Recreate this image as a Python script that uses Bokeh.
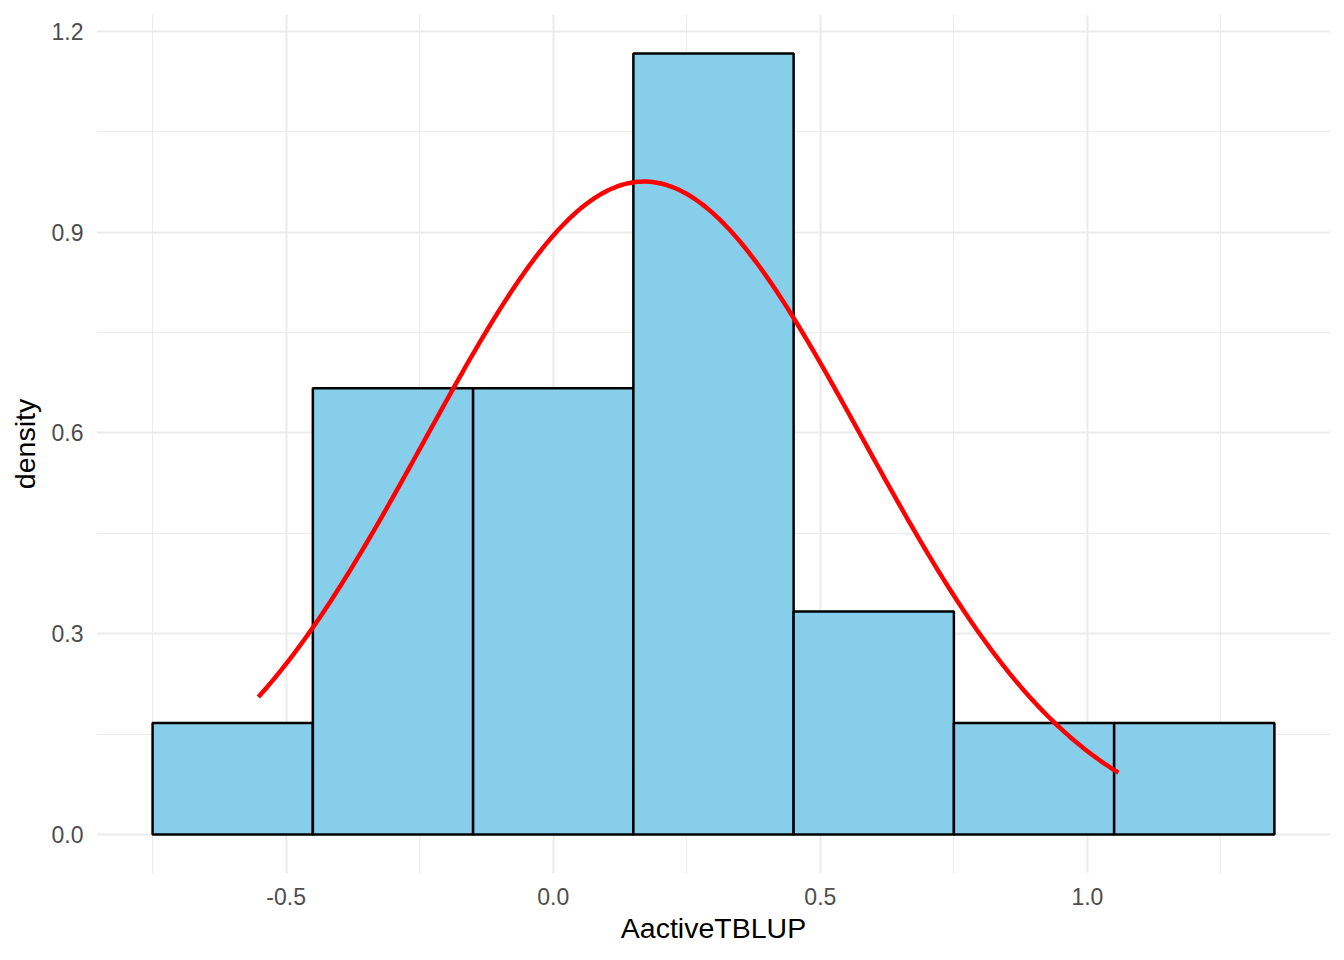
import numpy as np
from bokeh.plotting import figure
from bokeh.models import FixedTicker, Range1d
from bokeh.embed import file_html
from bokeh.resources import INLINE

# Histogram data (density scale)
bin_left = [-0.75, -0.45, -0.15, 0.15, 0.45, 0.75, 1.05]
bin_right = [-0.45, -0.15, 0.15, 0.45, 0.75, 1.05, 1.35]
density = [0.1667, 0.6667, 0.6667, 1.1667, 0.3333, 0.1667, 0.1667]

# Normal curve parameters
curve_mean = 0.17
curve_sd = 0.409
curve_from = -0.552
curve_to = 1.058

x_ticks = [-0.5, 0.0, 0.5, 1.0]
x_minor = [-0.75, -0.25, 0.25, 0.75, 1.25]
y_ticks = [0.0, 0.3, 0.6, 0.9, 1.2]
y_minor = [0.15, 0.45, 0.75, 1.05]

cx = np.linspace(curve_from, curve_to, 300)
cy = np.exp(-0.5 * ((cx - curve_mean) / curve_sd) ** 2) / (curve_sd * np.sqrt(2 * np.pi))

p = figure(width=1336, height=952, output_backend="svg", toolbar_location=None,
           x_range=Range1d(-0.855, 1.455), y_range=Range1d(-0.0583, 1.225),
           min_border_left=96, min_border_right=6, min_border_top=14, min_border_bottom=79)
p.outline_line_color = None
p.background_fill_color = "white"

for ax in (p.xaxis[0], p.yaxis[0]):
    ax.axis_line_color = None
    ax.major_tick_line_color = None
    ax.minor_tick_line_color = None
    ax.major_label_text_color = "#4D4D4D"
    ax.major_label_text_font = "Liberation Sans"
    ax.major_label_text_font_size = "23px"
    ax.axis_label_text_font = "Liberation Sans"
    ax.axis_label_text_font_size = "28.5px"
    ax.axis_label_text_font_style = "normal"
    ax.axis_label_text_color = "black"

p.xaxis.ticker = FixedTicker(ticks=x_ticks, minor_ticks=x_minor)
p.yaxis.ticker = FixedTicker(ticks=y_ticks, minor_ticks=y_minor)
p.xaxis.major_label_overrides = {v: f"{v:.1f}" for v in x_ticks}
p.yaxis.major_label_overrides = {v: f"{v:.1f}" for v in y_ticks}
p.xaxis.axis_label = "AactiveTBLUP"
p.yaxis.axis_label = "density"
p.xaxis.major_label_standoff = 8
p.yaxis.major_label_standoff = 7
p.xaxis.axis_label_standoff = 4
p.yaxis.axis_label_standoff = 8

for g in (p.xgrid[0], p.ygrid[0]):
    g.grid_line_color = "#EBEBEB"
    g.grid_line_width = 2
    g.minor_grid_line_color = "#EBEBEB"
    g.minor_grid_line_width = 1

p.quad(left=bin_left, right=bin_right, bottom=0, top=density,
       fill_color="#87CEEB", line_color="black", line_width=2.5)
p.line(cx, cy, line_color="red", line_width=4.5)

open("out.html", "w").write(file_html(p, INLINE))
